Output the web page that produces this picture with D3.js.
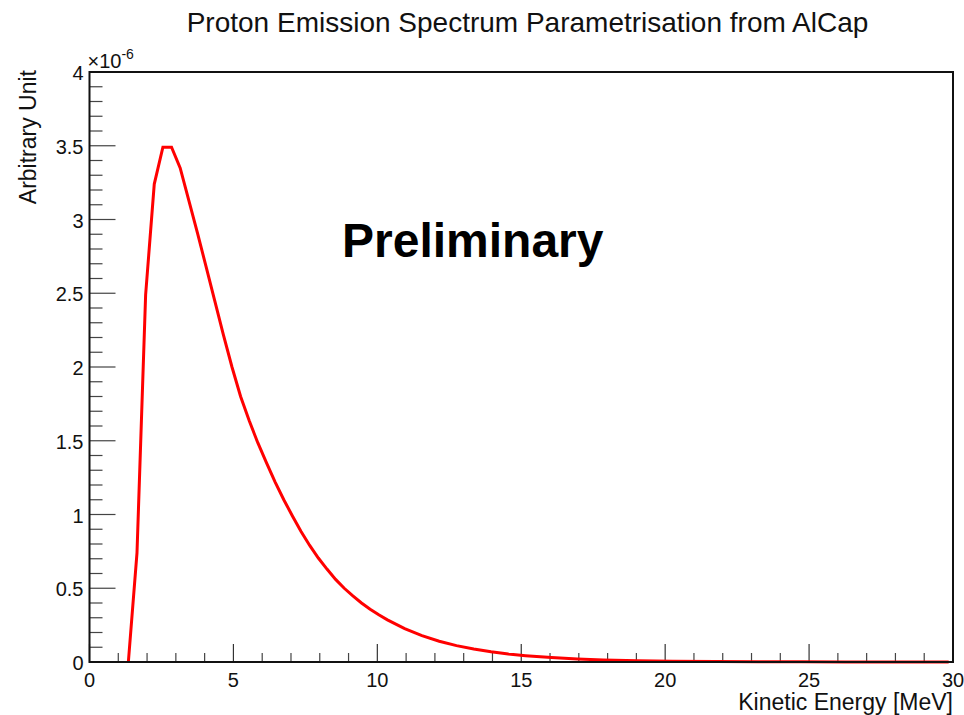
<!DOCTYPE html>
<html>
<head>
<meta charset="utf-8">
<script src="https://cdn.jsdelivr.net/npm/d3@7"></script>
<style>
  body { margin: 0; background: #fff; }
  svg { display: block; font-family: "Liberation Sans", Arial, Helvetica, sans-serif; }
</style>
</head>
<body>
<div id="chart"></div>
<script>
// proton spectrum, values in units of 1e-6
const energy = [1.35, 1.65, 1.95, 2.25, 2.55, 2.85, 3.15, 3.45, 3.75, 4.05, 4.35, 4.65, 4.95,
  5.25, 5.55, 5.85, 6.15, 6.45, 6.75, 7.05, 7.35, 7.65, 7.95, 8.25, 8.55, 8.85, 9.15, 9.45,
  9.75, 10.05, 10.35, 10.95, 11.55, 12.15, 12.75, 13.35, 13.95, 14.55, 15.15, 16.05, 16.95,
  17.85, 19.05, 20.25, 21.75, 23.25, 24.75, 26.25, 27.75, 29.85];
const yieldVals = [0, 0.74, 2.49, 3.24, 3.49, 3.49, 3.35, 3.13, 2.91, 2.68, 2.45, 2.22, 2.00,
  1.80, 1.635, 1.485, 1.35, 1.22, 1.10, 0.99, 0.885, 0.79, 0.705, 0.63, 0.56, 0.50, 0.448, 0.40,
  0.358, 0.32, 0.286, 0.226, 0.179, 0.141, 0.111, 0.088, 0.069, 0.054, 0.043, 0.030, 0.0207,
  0.0144, 0.0088, 0.0054, 0.0029, 0.0016, 0.0009, 0.0005, 0.00026, 0.0001];

const xMajor = [0, 5, 10, 15, 20, 25, 30];
const yMajor = [0, 0.5, 1, 1.5, 2, 2.5, 3, 3.5, 4];
const yLabels = ["0", "0.5", "1", "1.5", "2", "2.5", "3", "3.5", "4"];

const titleText = "Proton Emission Spectrum Parametrisation from AlCap";
const xTitle = "Kinetic Energy [MeV]";
const yTitle = "Arbitrary Unit";

const W = 964, H = 715;
let margin = {top: 72, right: 11, bottom: 53, left: 89.5};
let width = W - margin.left - margin.right,
    height = H - margin.top - margin.bottom;

const svg = d3.select("#chart").append("svg")
    .attr("width", W)
    .attr("height", H);

const g = svg.append("g")
    .attr("transform", "translate(" + margin.left + "," + margin.top + ")");

let x = d3.scaleLinear().domain([0, 30]).range([0, width]);
let y = d3.scaleLinear().domain([0, 4]).range([height, 0]);

// minor ticks
const xMinor = d3.range(0, 31, 1).filter(v => v % 5 !== 0);
const yMinor = d3.range(0, 41, 1).map(v => v / 10).filter((v, i) => i % 5 !== 0);

g.selectAll(".xminor").data(xMinor).enter().append("line")
    .attr("x1", d => x(d)).attr("x2", d => x(d))
    .attr("y1", height).attr("y2", height - 9)
    .attr("stroke", "#444").attr("stroke-width", 1.2);
g.selectAll(".xmajor").data(xMajor).enter().append("line")
    .attr("x1", d => x(d)).attr("x2", d => x(d))
    .attr("y1", height).attr("y2", height - 18)
    .attr("stroke", "#333").attr("stroke-width", 1.2);
g.selectAll(".yminor").data(yMinor).enter().append("line")
    .attr("x1", 0).attr("x2", 13)
    .attr("y1", d => y(d)).attr("y2", d => y(d))
    .attr("stroke", "#444").attr("stroke-width", 1.2);
g.selectAll(".ymajor").data(yMajor).enter().append("line")
    .attr("x1", 0).attr("x2", 26)
    .attr("y1", d => y(d)).attr("y2", d => y(d))
    .attr("stroke", "#444").attr("stroke-width", 1.2);

// tick labels
g.selectAll(".xlab").data(xMajor).enter().append("text")
    .attr("x", d => x(d)).attr("y", height + 25)
    .attr("text-anchor", "middle")
    .style("font-size", "20px").attr("fill", "#111")
    .text(d => d);
g.selectAll(".ylab").data(yMajor).enter().append("text")
    .attr("x", -6).attr("y", d => y(d) + 8)
    .attr("text-anchor", "end")
    .style("font-size", "20px").attr("fill", "#111")
    .text((d, i) => yLabels[i]);

// exponent
const expo = g.append("text").attr("x", -2).attr("y", -4)
    .style("font-size", "20px").attr("fill", "#111");
expo.append("tspan").text("\u00d710");
expo.append("tspan").attr("dy", -9).style("font-size", "14px").text("-6");

// curve
const line = d3.line()
    .x(d => x(d[0]))
    .y(d => y(d[1]));
g.append("path")
    .datum(energy.map((e, i) => [e, yieldVals[i]]))
    .attr("d", line)
    .attr("fill", "none")
    .attr("stroke", "#ff0000")
    .attr("stroke-width", 3)
    .attr("stroke-linejoin", "miter");

// frame
g.append("rect")
    .attr("x", 0).attr("y", 0)
    .attr("width", width).attr("height", height)
    .attr("fill", "none").attr("stroke", "#111").attr("stroke-width", 2);

// titles
svg.append("text")
    .attr("x", 527.5).attr("y", 32)
    .attr("text-anchor", "middle")
    .style("font-size", "28px").attr("fill", "#111")
    .text(titleText);
svg.append("text")
    .attr("x", margin.left + width).attr("y", 710)
    .attr("text-anchor", "end")
    .style("font-size", "23px").attr("fill", "#111")
    .text(xTitle);
svg.append("text")
    .attr("transform", "translate(36," + (margin.top - 2) + ") rotate(-90)")
    .attr("text-anchor", "end")
    .style("font-size", "23px").attr("fill", "#111")
    .text(yTitle);

svg.append("text")
    .attr("x", 342).attr("y", 257)
    .style("font-size", "48px").style("font-weight", "bold").attr("fill", "#000")
    .text("Preliminary");
</script>
</body>
</html>
